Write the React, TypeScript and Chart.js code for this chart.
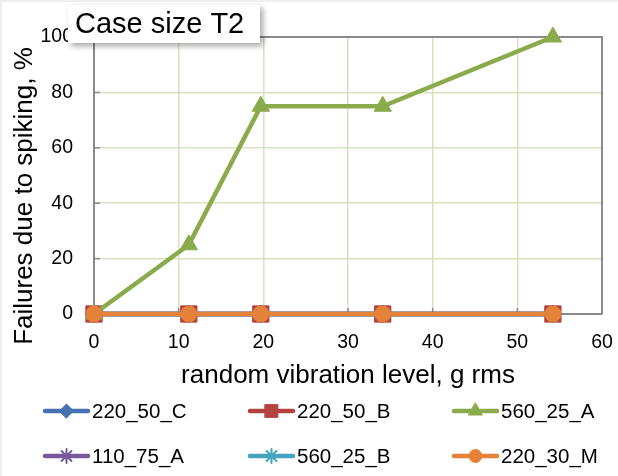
import React, { useEffect, useRef } from "react";
import { Chart, registerables } from "chart.js";
import { drawPoint } from "chart.js/helpers";

Chart.register(...registerables);

// ---- data ----
const xLevels = [0, 11.2, 19.7, 34.1, 54.2];
const seriesNames = ["220_50_C", "220_50_B", "560_25_A", "110_75_A", "560_25_B", "220_30_M"];
const v220_50_C = [0, 0, 0, 0, 0];
const v220_50_B = [0, 0, 0, 0, 0];
const v560_25_A = [0, 25, 75, 75, 100];
const v110_75_A = [0, 0, 0, 0, 0];
const v560_25_B = [0, 0, 0, 0, 0];
const v220_30_M = [0, 0, 0, 0, 0];
const seriesValues = [v220_50_C, v220_50_B, v560_25_A, v110_75_A, v560_25_B, v220_30_M];
const titleText = "Case size T2";
const xTitle = "random vibration level, g rms";
const yTitle = "Failures due to spiking, %";

// ---- styles ----
const colors = ["#4672B0", "#B3433F", "#8BAA4C", "#765A9A", "#45A4BE", "#E5823A"];
const pointStyles = ["rectRot", "rect", "triangle", "star", "star", "circle"];
const pointRadii = [9, 11.5, 10, 8, 8, 8];
const legendRadii = [7, 9, 8, 7, 7, 6.5];
const drawOrder = [5, 4, 3, 2, 1, 0];
const FONT = "'Liberation Sans', Arial, sans-serif";

const decorPlugin = {
  id: "decor",
  beforeDraw(chart: any) {
    const ctx = chart.ctx;
    ctx.save();
    ctx.fillStyle = "#ffffff";
    ctx.fillRect(0, 0, chart.width, chart.height);
    ctx.fillStyle = "#efefef";
    ctx.fillRect(0, 0, chart.width, 2);
    ctx.fillRect(0, 0, 2, chart.height);
    ctx.restore();
  },
  beforeDatasetsDraw(chart: any) {
    const ctx = chart.ctx;
    const a = chart.chartArea;
    const xs = chart.scales.x;
    const ys = chart.scales.y;
    ctx.save();
    ctx.strokeStyle = "#8a8a8a";
    ctx.lineWidth = 1.5;
    ys.ticks.forEach((t: any) => {
      const y = ys.getPixelForValue(t.value);
      ctx.beginPath();
      ctx.moveTo(a.left, y);
      ctx.lineTo(a.left + 6, y);
      ctx.stroke();
    });
    xs.ticks.forEach((t: any) => {
      const x = xs.getPixelForValue(t.value);
      ctx.beginPath();
      ctx.moveTo(x, a.bottom);
      ctx.lineTo(x, a.bottom - 6);
      ctx.stroke();
    });
    ctx.lineWidth = 2;
    ctx.beginPath();
    ctx.moveTo(a.left, a.top);
    ctx.lineTo(a.right, a.top);
    ctx.lineTo(a.right, a.bottom);
    ctx.stroke();
    ctx.restore();
  },
  afterDraw(chart: any) {
    const ctx = chart.ctx;
    const a = chart.chartArea;
    ctx.save();
    ctx.fillStyle = "#000";
    ctx.font = `26px ${FONT}`;
    ctx.textAlign = "center";
    ctx.textBaseline = "alphabetic";
    ctx.fillText(xTitle, (a.left + a.right) / 2, 383);
    ctx.save();
    ctx.translate(32, 196);
    ctx.rotate(-Math.PI / 2);
    ctx.fillText(yTitle, 0, 0);
    ctx.restore();

    ctx.save();
    ctx.shadowColor = "rgba(0,0,0,0.35)";
    ctx.shadowBlur = 6;
    ctx.shadowOffsetX = 3;
    ctx.shadowOffsetY = 3;
    ctx.fillStyle = "#ffffff";
    ctx.fillRect(68, 5, 192, 38);
    ctx.restore();
    ctx.fillStyle = "#000";
    ctx.font = `29px ${FONT}`;
    ctx.textAlign = "left";
    ctx.fillText(titleText, 75, 33);

    const rows = [411, 456];
    const colX = [45, 250, 454];
    ctx.font = `20.5px ${FONT}`;
    ctx.textBaseline = "middle";
    seriesNames.forEach((name, i) => {
      const x0 = colX[i % 3];
      const y = rows[Math.floor(i / 3)];
      ctx.strokeStyle = colors[i];
      ctx.fillStyle = colors[i];
      ctx.lineWidth = 4.5;
      ctx.lineCap = "round";
      ctx.beginPath();
      ctx.moveTo(x0, y);
      ctx.lineTo(x0 + 43, y);
      ctx.stroke();
      ctx.lineWidth = pointStyles[i] === "star" ? 2 : 1;
      drawPoint(ctx, { pointStyle: pointStyles[i], rotation: 0, radius: legendRadii[i], borderWidth: ctx.lineWidth } as any, x0 + 21.5, y);
      ctx.fillStyle = "#000";
      ctx.fillText(name, x0 + 47, y + 1);
    });
    ctx.restore();
  },
};

export default function App() {
  const ref = useRef<HTMLCanvasElement | null>(null);
  useEffect(() => {
    if (!ref.current) return;
    const datasets = seriesNames.map((name, i) => ({
      label: name,
      data: xLevels.map((x, k) => ({ x, y: seriesValues[i][k] })),
      borderColor: colors[i],
      backgroundColor: colors[i],
      pointBackgroundColor: colors[i],
      pointBorderColor: colors[i],
      pointBorderWidth: pointStyles[i] === "star" ? 2 : 1,
      pointStyle: pointStyles[i],
      pointRadius: pointRadii[i],
      borderWidth: 4.5,
      tension: 0,
      clip: false as any,
      order: drawOrder[i],
    }));
    const chart = new Chart(ref.current, {
      type: "line",
      data: { datasets },
      options: {
        animation: false,
        responsive: false,
        layout: { padding: { left: 0, top: 37, right: 16, bottom: 112 } },
        plugins: { legend: { display: false }, tooltip: { enabled: false }, title: { display: false } },
        scales: {
          x: {
            type: "linear",
            min: 0,
            max: 60,
            ticks: { stepSize: 10, padding: 17, color: "#000", maxRotation: 0, autoSkip: false, font: { family: FONT, size: 19.5 } },
            grid: { color: "#d6e3bc", lineWidth: 1.5, drawTicks: false },
            border: { color: "#8a8a8a", width: 2 },
            afterFit: (s: any) => { s.height = 50; s.paddingRight = 0; s.paddingLeft = 0; },
          },
          y: {
            min: 0,
            max: 100,
            ticks: { stepSize: 20, padding: 21, color: "#000", font: { family: FONT, size: 19.5 } },
            grid: { color: "#d6e3bc", lineWidth: 1.5, drawTicks: false },
            border: { color: "#8a8a8a", width: 2 },
            afterFit: (s: any) => { s.width = 94; s.paddingTop = 0; s.paddingBottom = 0; },
          },
        },
      },
      plugins: [decorPlugin],
    });
    return () => chart.destroy();
  }, []);
  return (
    <div style={{ position: "fixed", left: 0, top: 0, width: 618, height: 476, background: "#fff" }}>
      <canvas ref={ref} width={618} height={476} style={{ display: "block" }} />
    </div>
  );
}
